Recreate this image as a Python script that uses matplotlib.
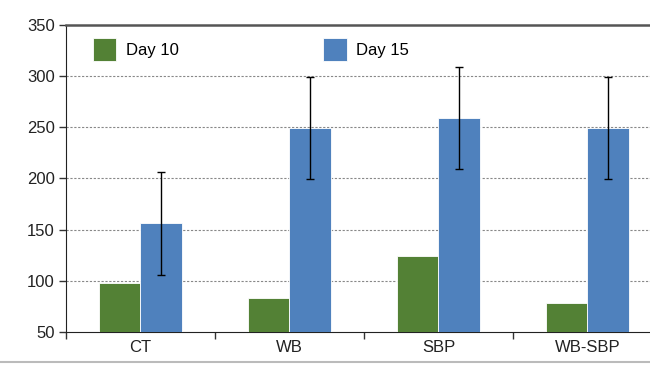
import matplotlib
matplotlib.use("Agg")
import matplotlib.pyplot as plt
import numpy as np

plt.rcParams['font.family'] = ['Liberation Sans', 'DejaVu Sans']

categories = ["CT", "WB", "SBP", "WB-SBP"]
day10 = [98, 83, 124, 78]
day15 = [156, 249, 259, 249]
day15_err = [50, 50, 50, 50]
yticks = [50, 100, 150, 200, 250, 300, 350]

green = "#538135"
blue = "#4f81bd"

fig = plt.figure(figsize=(6.5, 3.66), dpi=100)
ax = fig.add_axes([0.1015, 0.093, 0.8985, 0.839])

x = np.arange(len(categories))
w = 0.277
ax.bar(x - w/2, day10, w, color=green, label="Day 10", zorder=3,
       edgecolor="white", linewidth=0.6)
ax.bar(x + w/2, day15, w, color=blue, label="Day 15", zorder=3,
       edgecolor="white", linewidth=0.6,
       yerr=day15_err, error_kw=dict(ecolor="black", elinewidth=1, capsize=3, capthick=1, zorder=4))

ax.set_yticks(yticks)
ax.set_xticks(x)
ax.set_xticklabels(categories)
ax.set_xticks(np.arange(-0.5, 3, 1), minor=True)
ax.set_ylim(50, 350)
ax.set_xlim(-0.5, 3.42)
ax.tick_params(axis='x', which='major', length=0, labelsize=12, pad=6, labelcolor="#222222")
ax.tick_params(axis='x', which='minor', length=5, width=1, color="#333333")
ax.tick_params(axis='y', length=5, width=1, labelsize=12, color="#333333", labelcolor="#222222", pad=3)

for yv in yticks[1:-1]:
    ax.axhline(yv, color="#888888", linestyle=(0, (2, 1.5)), linewidth=0.8, zorder=1)

ax.spines['right'].set_visible(False)
ax.spines['top'].set_color("#555555")
ax.spines['top'].set_linewidth(1.8)
ax.spines['left'].set_color("#222222")
ax.spines['bottom'].set_color("#222222")

fig.legend(*ax.get_legend_handles_labels(), loc="upper left",
           bbox_to_anchor=(93/650, 1 - 38/366), ncol=2, frameon=False,
           fontsize=12, handlelength=1.4, handleheight=1.75, columnspacing=8.7,
           handletextpad=0.55, borderpad=0, borderaxespad=0)

fig.add_artist(plt.Line2D([0, 1], [0.011, 0.011], transform=fig.transFigure,
                          color="#bbbbbb", linewidth=1.5))

fig.savefig("out.png", dpi=100)
